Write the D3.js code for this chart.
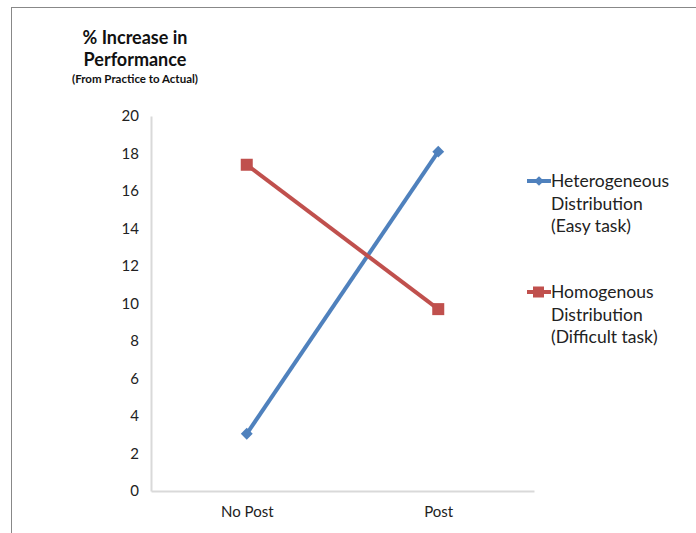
<!DOCTYPE html>
<html><head><meta charset="utf-8">
<script src="https://cdn.jsdelivr.net/npm/d3@7"></script>
<style>body{margin:0;background:#fff}svg{display:block;font-family:Lato,"Open Sans",sans-serif}</style>
</head><body>
<svg id="c" width="696" height="533"></svg>
<script>
const categories = ["No Post", "Post"];
const heterogeneous = [3.05, 18.1];
const homogenous = [17.4, 9.7];
const yTicks = [0, 2, 4, 6, 8, 10, 12, 14, 16, 18, 20];
const seriesNames = [["Heterogeneous", "Distribution", "(Easy task)"], ["Homogenous", "Distribution", "(Difficult task)"]];
const colors = ["#4F81BD", "#C0504D"];

const svg = d3.select("#c");
svg.append("line").attr("x1",11).attr("x2",696).attr("y1",7.5).attr("y2",7.5).attr("stroke","#888");
svg.append("line").attr("x1",11.5).attr("x2",11.5).attr("y1",7).attr("y2",533).attr("stroke","#888");

const x = d3.scalePoint().domain(categories).range([151, 534]).padding(0.5);
const y = d3.scaleLinear().domain([0, 20]).range([491, 116]);

const yAxis = svg.append("g").attr("transform","translate(151,0)")
  .call(d3.axisLeft(y).tickValues(yTicks).tickSize(0).tickPadding(12));
yAxis.select(".domain").attr("stroke","#d9d9d9").attr("stroke-width",2);
yAxis.selectAll("text").attr("font-size",15).attr("fill","#222").attr("font-family","Lato,sans-serif");

const xAxis = svg.append("g").attr("transform","translate(0,491)")
  .call(d3.axisBottom(x).tickSize(0).tickPadding(15));
xAxis.select(".domain").attr("stroke","#d9d9d9").attr("stroke-width",2);
xAxis.selectAll("text").attr("font-size",15).attr("fill","#222").attr("font-family","Lato,sans-serif");

const line = d3.line().x((d,i)=>x(categories[i])).y(d=>y(d));
const data = [heterogeneous, homogenous];
data.forEach((vals, s) => {
  svg.append("path").attr("d", line(vals)).attr("fill","none").attr("stroke",colors[s]).attr("stroke-width",4);
  vals.forEach((v,i) => {
    if (s === 0) {
      svg.append("path").attr("d", d3.symbol(d3.symbolDiamond2, 90)())
        .attr("transform",`translate(${x(categories[i])},${y(v)})`).attr("fill",colors[s]);
    } else {
      svg.append("rect").attr("x",x(categories[i])-6).attr("y",y(v)-6).attr("width",12).attr("height",12).attr("fill",colors[s]);
    }
  });
});

// title
const t = svg.append("text").attr("text-anchor","middle").attr("font-weight","bold").attr("fill","#111").attr("font-family","Lato,sans-serif");
t.append("tspan").attr("x",135).attr("y",44).attr("font-size",18).text("% Increase in");
t.append("tspan").attr("x",135).attr("y",66).attr("font-size",18).text("Performance");
t.append("tspan").attr("x",135).attr("y",83).attr("font-size",11.5).text("(From Practice to Actual)");

// legend
const legY = [181, 292];
seriesNames.forEach((lines, s) => {
  const g = svg.append("g");
  g.append("line").attr("x1",527).attr("x2",551).attr("y1",legY[s]).attr("y2",legY[s]).attr("stroke",colors[s]).attr("stroke-width",4);
  if (s === 0) g.append("path").attr("d", d3.symbol(d3.symbolDiamond2, 60)()).attr("transform",`translate(539,${legY[s]})`).attr("fill",colors[s]);
  else g.append("rect").attr("x",533).attr("y",legY[s]-5.5).attr("width",11).attr("height",11).attr("fill",colors[s]);
  lines.forEach((txt, k) => {
    g.append("text").attr("x",551).attr("y",legY[s]+6+k*22.5).attr("font-size",17.5).attr("fill","#222")
      .attr("font-family","Lato,sans-serif").text(txt);
  });
});
</script>
</body></html>
